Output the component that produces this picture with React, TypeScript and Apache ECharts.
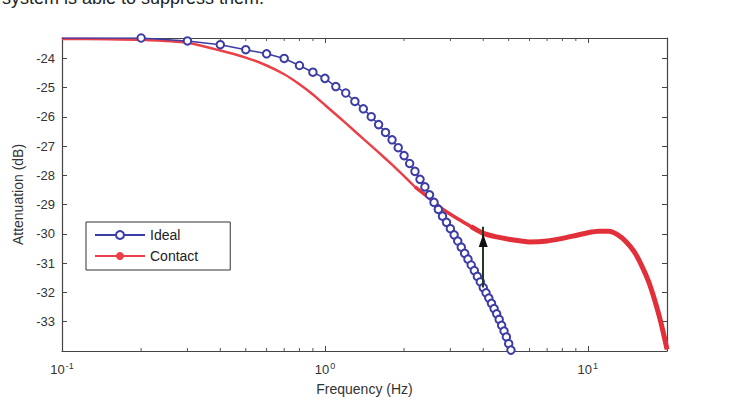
import React, { useEffect, useRef } from "react";
import * as echarts from "echarts";

// Ideal response (blue circles), frequency in Hz, attenuation in dB
const idealFreq = [
  0.1, 0.2, 0.3, 0.4, 0.5, 0.6, 0.7, 0.8, 0.9, 1.0,
  1.1, 1.2, 1.3, 1.4, 1.5, 1.6, 1.7, 1.8, 1.9, 2.0,
  2.1, 2.2, 2.3, 2.4, 2.5, 2.6, 2.7, 2.8, 2.9, 3.0,
  3.1, 3.2, 3.3, 3.4, 3.5, 3.6, 3.7, 3.8, 3.9, 4.0,
  4.1, 4.2, 4.3, 4.4, 4.5, 4.6, 4.7, 4.8, 4.9, 5.0,
  5.1, 5.2,
];
const idealDb = [
  -23.3, -23.3, -23.4, -23.53, -23.7, -23.84, -24.0, -24.24, -24.47, -24.68,
  -24.96, -25.18, -25.47, -25.72, -25.99, -26.26, -26.53, -26.78, -27.05, -27.32,
  -27.59, -27.86, -28.13, -28.39, -28.66, -28.92, -29.16, -29.39, -29.6, -29.82,
  -30.03, -30.24, -30.45, -30.66, -30.86, -31.06, -31.25, -31.45, -31.64, -31.83,
  -32.01, -32.19, -32.37, -32.55, -32.73, -32.92, -33.12, -33.32, -33.52, -33.75,
  -33.97, -34.2,
];

// Contact response (red)
const contactFreq = [
  0.1, 0.15, 0.2, 0.3, 0.4, 0.5, 0.6, 0.7, 0.8, 0.9,
  1.0, 1.2, 1.4, 1.6, 1.8, 2.0, 2.2, 2.5, 2.8, 3.2,
  3.6, 4.0, 4.5, 5.0, 6.0, 7.0, 8.0, 9.0, 10, 11,
  12, 13, 14, 15, 16, 17, 18, 19, 20,
];
const contactDb = [
  -23.33, -23.34, -23.36, -23.46, -23.73, -23.97, -24.24, -24.54, -24.88, -25.23,
  -25.59, -26.21, -26.75, -27.21, -27.63, -28.02, -28.39, -28.78, -29.15, -29.48,
  -29.75, -29.98, -30.1, -30.18, -30.27, -30.24, -30.15, -30.05, -29.96, -29.91,
  -29.91, -30.03, -30.27, -30.6, -31.07, -31.61, -32.29, -33.06, -33.94,
];

// Arrow between the two curves
const arrowFreq = 4.0;
const arrowFromDb = -31.83;
const arrowToDb = -30.0;

// Axes
const xMin = 0.1;
const xMax = 20;
const yMin = -34;
const yMax = -23.3;
const minorTickFreq = [0.2, 0.3, 0.4, 0.5, 0.6, 0.7, 0.8, 0.9, 2, 3, 4, 5, 6, 7, 8, 9];

const FONT = "Liberation Sans";

export default function App() {
  const ref = useRef<HTMLDivElement>(null);

  useEffect(() => {
    if (!ref.current) return;
    const chart = echarts.init(ref.current, null, { renderer: "svg" });

    const idealData = idealFreq.map((f, i) =>
      i === 0 ? { value: [f, idealDb[i]], symbol: "none" } : [f, idealDb[i]]
    );
    const contactData = contactFreq.map((f, i) => [f, contactDb[i]]);
    const contactMid = contactData.filter((d) => d[0] >= 2.2);
    const contactThick = contactData.filter((d) => d[0] >= 3.6);

    const xLabelFmt = (v: number) => {
      const e = Math.log10(v);
      if (Math.abs(e - Math.round(e)) > 1e-6) return "";
      return "10{sup|" + Math.round(e) + "}";
    };

    const option: any = {
      animation: false,
      backgroundColor: "#ffffff",
      textStyle: { fontFamily: FONT },
      graphic: [
        {
          type: "text",
          left: 2,
          top: -11,
          style: {
            text: "system is able to suppress them.",
            fontSize: 18,
            fontFamily: FONT,
            fill: "#222",
          },
        },
      ],
      grid: { left: 62, right: 64, top: 38, bottom: 48, containLabel: false },
      legend: {
        data: ["Ideal", "Contact"],
        orient: "vertical",
        left: 86,
        top: 222,
        padding: [6, 32, 7, 8],
        itemGap: 7,
        itemWidth: 50,
        itemHeight: 10,
        borderColor: "#333",
        borderWidth: 1,
        backgroundColor: "#fff",
        textStyle: { fontSize: 14, fontFamily: FONT, color: "#222" },
      },
      xAxis: [
        {
          type: "log",
          logBase: 10,
          min: xMin,
          max: xMax,
          name: "Frequency (Hz)",
          nameLocation: "middle",
          nameGap: 31,
          nameTextStyle: { fontSize: 14, color: "#333", fontFamily: FONT },
          axisLine: { lineStyle: { color: "#444", width: 1.2 } },
          axisTick: { inside: true, length: 5, lineStyle: { color: "#444" } },
          splitLine: { show: false },
          axisLabel: {
            formatter: xLabelFmt,
            color: "#333",
            fontSize: 13,
            margin: 10,
            fontFamily: FONT,
            rich: {
              sup: { fontSize: 9, verticalAlign: "top", padding: [0, 0, 7, 1], color: "#333" },
            },
          },
        },
        {
          type: "log",
          logBase: 10,
          min: xMin,
          max: xMax,
          position: "top",
          axisLine: { lineStyle: { color: "#444", width: 1.2 } },
          axisTick: { inside: true, length: 5, lineStyle: { color: "#444" } },
          axisLabel: { show: false },
          splitLine: { show: false },
        },
      ],
      yAxis: [
        {
          type: "value",
          min: yMin,
          max: yMax,
          interval: 1,
          name: "Attenuation (dB)",
          nameLocation: "middle",
          nameGap: 35,
          nameTextStyle: { fontSize: 14, color: "#333", fontFamily: FONT },
          axisLine: { show: true, lineStyle: { color: "#444", width: 1.2 } },
          axisTick: { show: true, inside: true, length: 5, lineStyle: { color: "#444" } },
          splitLine: { show: false },
          axisLabel: {
            color: "#333",
            fontSize: 13,
            margin: 7,
            fontFamily: FONT,
            formatter: (v: number) =>
              Math.abs(v - Math.round(v)) < 1e-6 && v > yMin + 0.5 ? String(Math.round(v)) : "",
          },
        },
        {
          type: "value",
          min: yMin,
          max: yMax,
          interval: 1,
          position: "right",
          axisLine: { show: true, lineStyle: { color: "#444", width: 1.2 } },
          axisTick: { show: true, inside: true, length: 5, lineStyle: { color: "#444" } },
          axisLabel: { show: false },
          splitLine: { show: false },
        },
      ],
      series: [
        {
          type: "custom",
          name: "minorTicks",
          silent: true,
          clip: false,
          data: minorTickFreq.map((f) => [f, yMin]),
          encode: { x: 0, y: 1 },
          renderItem: (_p: any, api: any) => {
            const f = api.value(0);
            const b = api.coord([f, yMin]);
            const t = api.coord([f, yMax]);
            return {
              type: "group",
              children: [
                {
                  type: "line",
                  shape: { x1: b[0], y1: b[1], x2: b[0], y2: b[1] - 3 },
                  style: { stroke: "#555", lineWidth: 1 },
                },
                {
                  type: "line",
                  shape: { x1: t[0], y1: t[1], x2: t[0], y2: t[1] + 3 },
                  style: { stroke: "#555", lineWidth: 1 },
                },
              ],
            };
          },
        },
        {
          name: "Contact",
          type: "line",
          data: contactData,
          smooth: 0.2,
          showSymbol: false,
          symbol: "circle",
          symbolSize: 3,
          clip: true,
          lineStyle: { color: "#ea4048", width: 2.5 },
          itemStyle: { color: "#ea4048" },
          z: 2,
        },
        {
          name: "Contact",
          type: "line",
          data: contactMid,
          smooth: 0.2,
          showSymbol: false,
          clip: true,
          lineStyle: { color: "#e6353e", width: 3.5 },
          itemStyle: { color: "#e6353e" },
          z: 2,
        },
        {
          name: "Contact",
          type: "line",
          data: contactThick,
          smooth: 0.2,
          showSymbol: false,
          clip: true,
          lineStyle: { color: "#e2303a", width: 5 },
          itemStyle: { color: "#e2303a" },
          z: 2,
        },
        {
          name: "Ideal",
          type: "line",
          data: idealData,
          symbol: "emptyCircle",
          symbolSize: 7.5,
          clip: true,
          lineStyle: { color: "#3c3ca6", width: 1.5 },
          itemStyle: { color: "#3c3ca6", borderWidth: 1.7 },
          z: 3,
          markLine: {
            silent: true,
            symbol: "none",
            label: { show: false },
            lineStyle: { color: "#1f3b23", width: 2, type: "solid" },
            data: [
              [
                { coord: [arrowFreq, arrowFromDb] },
                { coord: [arrowFreq, arrowToDb + 0.25] },
              ],
            ],
          },
          markPoint: {
            silent: true,
            symbol: "triangle",
            symbolSize: [9, 13],
            symbolOffset: [0, "50%"],
            label: { show: false },
            itemStyle: { color: "#111" },
            data: [{ coord: [arrowFreq, arrowToDb] }],
          },
        },
      ],
    };

    chart.setOption(option);
    return () => chart.dispose();
  }, []);

  return (
    <div
      ref={ref}
      style={{ position: "absolute", left: 0, top: 0, width: 731, height: 401 }}
    />
  );
}
